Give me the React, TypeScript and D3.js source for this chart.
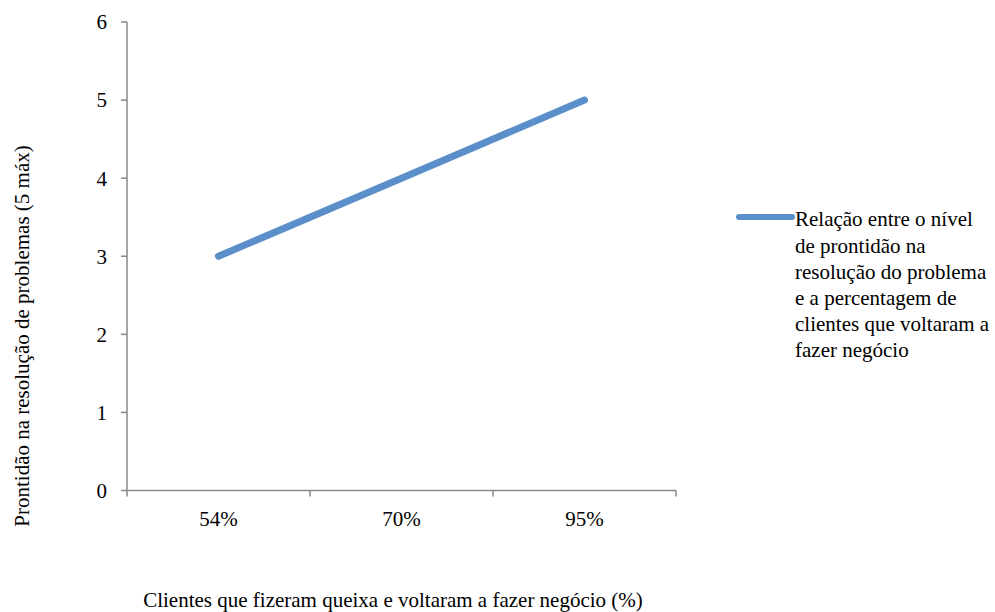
import React from "react";
import * as d3 from "d3";

const categories = ["54%", "70%", "95%"];
const values = [3, 4, 5];
const yTicks = [0, 1, 2, 3, 4, 5, 6];
const seriesName = [
  "Relação entre o nível",
  "de prontidão na",
  "resolução do problema",
  "e a percentagem de",
  "clientes que voltaram a",
  "fazer negócio",
];
const xTitle = "Clientes que fizeram queixa e voltaram a fazer negócio (%)";
const yTitle = "Prontidão na resolução de problemas (5 máx)";

const W = 995;
const H = 612;
const left = 127;
const right = 676;
const top = 22;
const bottom = 490.5;
const font = "Liberation Serif, Times New Roman, Times, serif";
const axisColor = "#898989";
const lineColor = "#5B8FCA";
const textStyle: React.CSSProperties = { fontFamily: font, fontSize: 21 };

export default function App() {
  const x = d3.scaleBand<string>().domain(categories).range([left, right]);
  const y = d3.scaleLinear().domain([0, 6]).range([bottom, top]);
  const line = d3
    .line<number>()
    .x((_, i) => (x(categories[i]) ?? 0) + x.bandwidth() / 2)
    .y((d) => y(d));
  const xTickPos = [...categories.map((c) => x(c) ?? 0), right];

  return (
    <svg
      width={W}
      height={H}
      style={{ position: "absolute", left: 0, top: 0, background: "#fff", fontFamily: font }}
    >
      {/* y axis */}
      <line x1={left} x2={left} y1={top} y2={bottom} stroke={axisColor} strokeWidth={1.5} />
      {yTicks.map((t) => (
        <g key={t}>
          <line x1={left - 6} x2={left} y1={y(t)} y2={y(t)} stroke={axisColor} strokeWidth={1.5} />
          <text x={107} y={y(t)} dy="0.35em" textAnchor="end" style={textStyle} fill="#000">
            {t}
          </text>
        </g>
      ))}
      {/* x axis */}
      <line x1={left} x2={right} y1={bottom} y2={bottom} stroke={axisColor} strokeWidth={1.5} />
      {xTickPos.map((p, i) => (
        <line key={i} x1={p} x2={p} y1={bottom} y2={bottom + 6} stroke={axisColor} strokeWidth={1.5} />
      ))}
      {categories.map((c) => (
        <text
          key={c}
          x={(x(c) ?? 0) + x.bandwidth() / 2}
          y={526}
          textAnchor="middle"
          style={textStyle}
          fill="#000"
        >
          {c}
        </text>
      ))}
      {/* series */}
      <path
        d={line(values) ?? ""}
        fill="none"
        stroke={lineColor}
        strokeWidth={7}
        strokeLinecap="round"
        strokeLinejoin="round"
      />
      {/* axis titles */}
      <text x={393} y={607} textAnchor="middle" style={textStyle} fill="#000">
        {xTitle}
      </text>
      <text
        transform={`translate(29,336) rotate(-90)`}
        textAnchor="middle"
        style={textStyle}
        fill="#000"
      >
        {yTitle}
      </text>
      {/* legend */}
      <line x1={739} x2={792} y1={217} y2={217} stroke={lineColor} strokeWidth={6} strokeLinecap="round" />
      {seriesName.map((s, i) => (
        <text key={i} x={795} y={219 + i * 26.2} dy="0.35em" style={textStyle} fill="#000">
          {s}
        </text>
      ))}
    </svg>
  );
}
